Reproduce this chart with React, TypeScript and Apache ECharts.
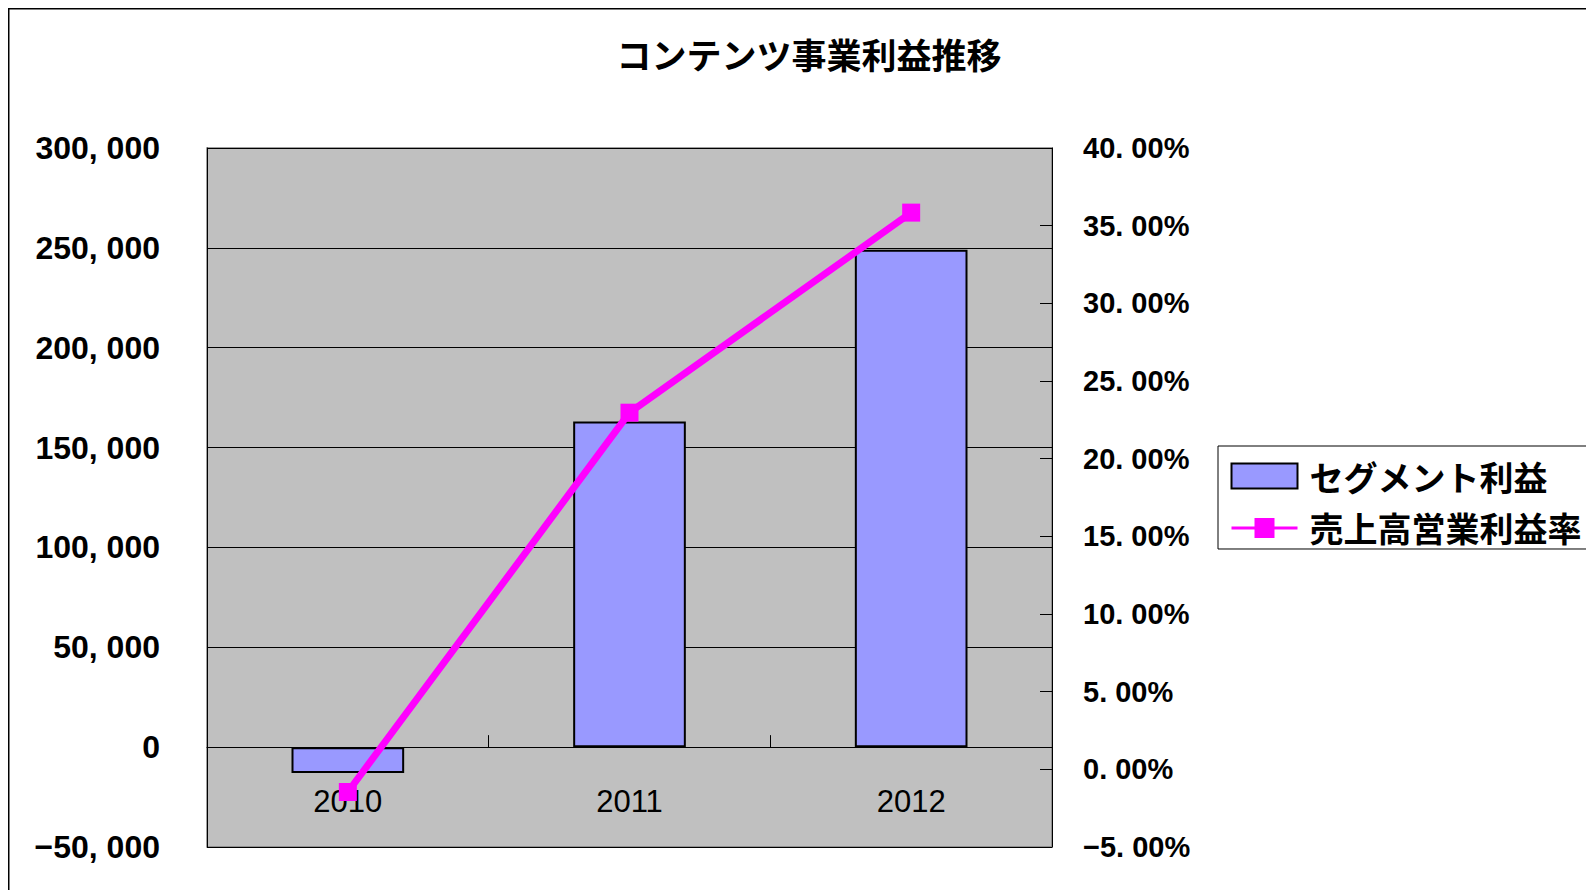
import React, { useEffect, useRef } from "react";
import * as echarts from "echarts";

const titleText = "コンテンツ事業利益推移";
const categories = ["2010", "2011", "2012"];
const segmentProfit = [-13000, 163000, 249000];
const operatingMargin = [-1.46, 22.96, 35.84];
const seriesNames = ["セグメント利益", "売上高営業利益率"];
const leftMin = -50000;
const leftMax = 300000;
const leftInterval = 50000;
const rightMin = -5;
const rightMax = 40;
const rightInterval = 5;

const GRID_TOP = 140;
const GRID_BOTTOM = 43;
const CHART_H = 882;
const GRID_H = CHART_H - GRID_TOP - GRID_BOTTOM;
const zeroOffset = -GRID_H * (0 - leftMin) / (leftMax - leftMin);

const labelFont = '"Liberation Sans", Arial, sans-serif';

function fmtLeft(v: number): string {
  const abs = Math.abs(v);
  const s = abs.toString().replace(/\B(?=(\d{3})+(?!\d))/g, ", ");
  return (v < 0 ? "\u2212" : "") + s;
}
function fmtRight(v: number): string {
  const abs = Math.abs(v);
  return (v < 0 ? "\u2212" : "") + abs.toFixed(2).replace(".", ". ") + "%";
}

export default function App() {
  const ref = useRef<HTMLDivElement>(null);
  useEffect(() => {
    if (!ref.current) return;
    const chart = echarts.init(ref.current, undefined, { renderer: "svg" });
    chart.setOption({
      animation: false,
      backgroundColor: "#ffffff",
      title: {
        text: titleText,
        left: 796,
        textAlign: "center",
        top: 23,
        textStyle: {
          fontSize: 35,
          fontWeight: "bold",
          color: "#000",
          fontFamily: '"Noto Sans CJK JP", sans-serif',
        },
      },
      graphic: [
        {
          type: "rect",
          shape: { x: 0.75, y: 0.75, width: 3000, height: 3000 },
          style: { fill: "none", stroke: "#000", lineWidth: 1.5 },
          silent: true,
        },
      ],
      legend: {
        orient: "vertical",
        left: 1210,
        top: 438,
        padding: [13, 20, 4, 12],
        itemGap: 18,
        itemWidth: 66,
        itemHeight: 25,
        borderColor: "#000",
        borderWidth: 1,
        backgroundColor: "#fff",
        textStyle: {
          fontSize: 34,
          fontWeight: "bold",
          color: "#000",
          fontFamily: '"Noto Sans CJK JP", sans-serif',
          padding: [0, 0, 0, 7],
        },
        data: [
          { name: seriesNames[0], icon: "rect" },
          { name: seriesNames[1], lineStyle: { width: 3 } },
        ],
      },
      grid: {
        left: 199,
        top: GRID_TOP,
        right: 542,
        bottom: GRID_BOTTOM,
        show: true,
        backgroundColor: "#C0C0C0",
        borderColor: "#808080",
        borderWidth: 1.5,
        outerBoundsMode: "none",
        containLabel: false,
      },
      xAxis: {
        type: "category",
        data: categories,
        boundaryGap: true,
        position: "bottom",
        offset: zeroOffset,
        axisLine: { show: true, onZero: false, lineStyle: { color: "#000", width: 1 } },
        axisTick: { show: true, inside: true, length: 12, lineStyle: { color: "#000" } },
        axisLabel: {
          margin: 39,
          fontSize: 31,
          color: "#000",
          fontFamily: labelFont,
        },
        splitLine: { show: false },
      },
      yAxis: [
        {
          type: "value",
          min: leftMin,
          max: leftMax,
          interval: leftInterval,
          position: "left",
          axisLine: { show: true, onZero: false, lineStyle: { color: "#000", width: 1 } },
          axisTick: { show: true, inside: true, length: 12, lineStyle: { color: "#000" } },
          axisLabel: {
            margin: 47,
            fontSize: 32,
            fontWeight: "bold",
            color: "#000",
            fontFamily: labelFont,
            formatter: (v: number) => fmtLeft(v),
          },
          splitLine: { show: true, lineStyle: { color: "#000", width: 1 } },
        },
        {
          type: "value",
          min: rightMin,
          max: rightMax,
          interval: rightInterval,
          position: "right",
          axisLine: { show: true, onZero: false, lineStyle: { color: "#000", width: 1 } },
          axisTick: { show: true, inside: true, length: 12, lineStyle: { color: "#000" } },
          axisLabel: {
            margin: 31,
            fontSize: 29,
            fontWeight: "bold",
            color: "#000",
            fontFamily: labelFont,
            formatter: (v: number) => fmtRight(v),
          },
          splitLine: { show: false },
        },
      ],
      series: [
        {
          name: seriesNames[0],
          type: "bar",
          data: segmentProfit,
          yAxisIndex: 0,
          barWidth: "40%",
          itemStyle: { color: "#9999FF", borderColor: "#000", borderWidth: 2 },
        },
        {
          name: seriesNames[1],
          type: "line",
          data: operatingMargin,
          yAxisIndex: 1,
          symbol: "rect",
          symbolSize: 18,
          lineStyle: { color: "#FF00FF", width: 7 },
          itemStyle: { color: "#FF00FF" },
        },
      ],
    });
    return () => chart.dispose();
  }, []);
  return <div ref={ref} style={{ width: 1586, height: CHART_H }} />;
}
